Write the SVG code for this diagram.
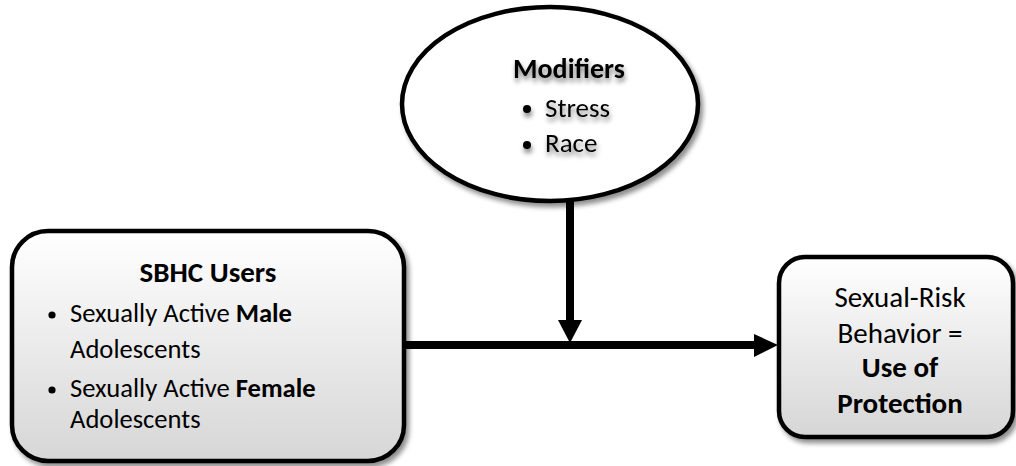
<svg xmlns="http://www.w3.org/2000/svg" width="1016" height="466" viewBox="0 0 1016 466">
<defs>
<linearGradient id="gBox" x1="0" y1="0" x2="0" y2="1">
<stop offset="0" stop-color="#ffffff"/>
<stop offset="1" stop-color="#d6d6d6"/>
</linearGradient>
<filter id="shadow" x="-10%" y="-10%" width="125%" height="130%">
<feGaussianBlur in="SourceAlpha" stdDeviation="2.5"/>
<feOffset dx="3" dy="4" result="b"/>
<feComponentTransfer><feFuncA type="linear" slope="0.45"/></feComponentTransfer>
<feMerge><feMergeNode/><feMergeNode in="SourceGraphic"/></feMerge>
</filter>
<filter id="tshadow" x="-10%" y="-20%" width="120%" height="160%">
<feGaussianBlur in="SourceAlpha" stdDeviation="2.5"/>
<feOffset dx="1" dy="4"/>
<feComponentTransfer><feFuncA type="linear" slope="0.5"/></feComponentTransfer>
<feMerge><feMergeNode/><feMergeNode in="SourceGraphic"/></feMerge>
</filter>
</defs>
<style>
text{font-family:Carlito,Lato,"Open Sans",sans-serif;fill:#000}
.shape{stroke:#000;stroke-width:4.5}
.b{font-weight:bold}
.conn{stroke:#000;stroke-width:8;fill:none}
</style>

<g id="modifiers">
<ellipse class="shape" cx="550" cy="104" rx="148" ry="97" fill="#fff" filter="url(#shadow)"/>
<g filter="url(#tshadow)">
<text x="569" y="78" font-size="28" class="b" text-anchor="middle">Modifiers</text>
<circle cx="527" cy="109" r="4" fill="#000"/>
<text x="545" y="117" font-size="27">Stress</text>
<circle cx="527" cy="145" r="4" fill="#000"/>
<text x="545" y="152" font-size="27">Race</text>
</g>
</g>

<g id="connectors">
<line class="conn" x1="570" y1="200" x2="570" y2="325"/>
<polygon points="558,320 582,320 570,343" fill="#000"/>
<line class="conn" x1="406" y1="345" x2="758" y2="345"/>
<polygon points="754,334 778,345 754,357" fill="#000"/>
</g>

<g id="sbhc-users">
<rect class="shape" x="12" y="231" width="392" height="230" rx="36" ry="36" fill="url(#gBox)" filter="url(#shadow)"/>
<text x="208" y="282" font-size="29" class="b" text-anchor="middle">SBHC Users</text>
<circle cx="52" cy="315" r="3.6" fill="#000"/>
<text x="70" y="322" font-size="26.6">Sexually Active <tspan class="b">Male</tspan></text>
<text x="70" y="358" font-size="26.6">Adolescents</text>
<circle cx="52" cy="390" r="3.6" fill="#000"/>
<text x="70" y="397" font-size="26.6">Sexually Active <tspan class="b">Female</tspan></text>
<text x="70" y="428" font-size="26.6">Adolescents</text>
</g>

<g id="outcome">
<rect class="shape" x="779" y="257" width="234" height="180" rx="26" ry="26" fill="url(#gBox)" filter="url(#shadow)"/>
<text x="900" y="307" font-size="29" text-anchor="middle">Sexual-Risk</text>
<text x="900" y="343" font-size="29" text-anchor="middle">Behavior =</text>
<text x="900" y="377" font-size="29" class="b" text-anchor="middle">Use of</text>
<text x="900" y="413" font-size="29" class="b" text-anchor="middle">Protection</text>
</g>
</svg>
